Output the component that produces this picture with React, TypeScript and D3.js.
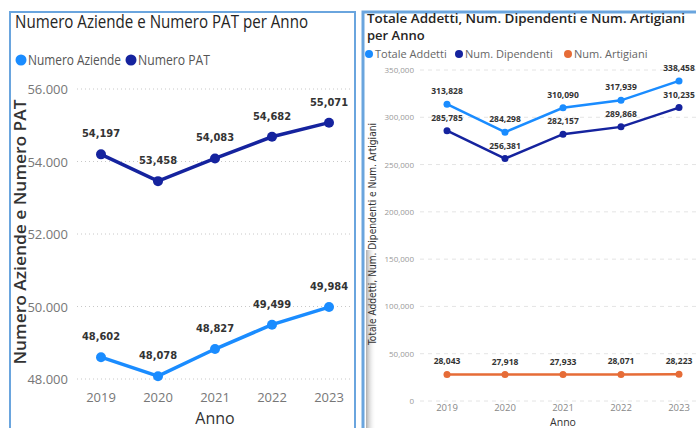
import React, { useEffect, useRef } from "react";
import * as d3 from "d3";

const years = ["2019", "2020", "2021", "2022", "2023"];
// left chart
const numeroAziende = [48602, 48078, 48827, 49499, 49984];
const numeroPat = [54197, 53458, 54083, 54682, 55071];
const leftTicks = [48000, 50000, 52000, 54000, 56000];
// right chart
const totaleAddetti = [313828, 284298, 310090, 317939, 338458];
const numDipendenti = [285785, 256381, 282157, 289868, 310235];
const numArtigiani = [28043, 27918, 27933, 28071, 28223];
const rightTicks = [0, 50000, 100000, 150000, 200000, 250000, 300000, 350000];

const LIGHT = "#1a8cff";
const DARK = "#15239e";
const ORANGE = "#e66c37";
const BORDER = "#6aa5de";

const sans = "'Segoe UI', 'Open Sans', 'DejaVu Sans', sans-serif";
const cond = "'DejaVu Sans Condensed', 'DejaVu Sans', sans-serif";

const drawCharts = (el: SVGSVGElement) => {
    const svg = d3.select(el);
    svg.selectAll("*").remove();

    svg.append("rect").attr("width", 696).attr("height", 428).attr("fill", "#fff");

    // panel frames
    svg.append("rect").attr("x", 10).attr("y", 12).attr("width", 345).attr("height", 430)
        .attr("fill", "none").attr("stroke", BORDER).attr("stroke-width", 2);
    const grad = svg.append("defs").append("linearGradient").attr("id", "shade");
    grad.append("stop").attr("offset", "0").attr("stop-color", "#777").attr("stop-opacity", 0.6);
    grad.append("stop").attr("offset", "1").attr("stop-color", "#fff").attr("stop-opacity", 0);
    svg.append("rect").attr("x", 366).attr("y", 250).attr("width", 10).attr("height", 180).attr("fill", "url(#shade)");
    svg.append("rect").attr("x", 363).attr("y", 12).attr("width", 345).attr("height", 430)
        .attr("fill", "none").attr("stroke", BORDER).attr("stroke-width", 3);

    // ---------- left chart ----------
    const xL = d3.scalePoint<string>().domain(years).range([101, 329]);
    const yL = d3.scaleLinear().domain([48000, 56000]).range([379, 89]);
    const dotFmt = (v: number) => d3.format(",")(v).replace(/,/g, ".");

    svg.append("text").attr("x", 15).attr("y", 28).attr("font-family", sans).attr("font-size", 18)
        .attr("fill", "#252423").attr("textLength", 293).attr("lengthAdjust", "spacingAndGlyphs")
        .text("Numero Aziende e Numero PAT per Anno");

    const legL = [
        { name: "Numero Aziende", c: LIGHT, x: 21, w: 93 },
        { name: "Numero PAT", c: DARK, x: 131, w: 72 },
    ];
    legL.forEach((d) => {
        svg.append("circle").attr("cx", d.x).attr("cy", 60).attr("r", 5.5).attr("fill", d.c);
        svg.append("text").attr("x", d.x + 7).attr("y", 65).attr("font-family", sans).attr("font-size", 14)
            .attr("fill", "#555").attr("textLength", d.w).attr("lengthAdjust", "spacingAndGlyphs").text(d.name);
    });

    const gL = svg.append("g");
    leftTicks.forEach((t) => {
        gL.append("line").attr("x1", 77).attr("x2", 350).attr("y1", yL(t)).attr("y2", yL(t))
            .attr("stroke", "#c8c8c8").attr("stroke-dasharray", "1,3").attr("stroke-width", 1);
        gL.append("text").attr("x", 68).attr("y", yL(t) + 5).attr("text-anchor", "end")
            .attr("font-family", sans).attr("font-size", 13).attr("fill", "#777").text(dotFmt(t));
    });
    years.forEach((yr) => {
        gL.append("text").attr("x", xL(yr)!).attr("y", 402).attr("text-anchor", "middle")
            .attr("font-family", sans).attr("font-size", 13).attr("fill", "#777").text(yr);
    });
    gL.append("text").attr("x", 215).attr("y", 424).attr("text-anchor", "middle").attr("font-family", sans)
        .attr("font-size", 16).attr("fill", "#333").text("Anno");
    gL.append("text").attr("transform", "translate(26,232) rotate(-90)").attr("text-anchor", "middle")
        .attr("font-family", sans).attr("font-size", 16).attr("font-weight", 600).attr("fill", "#333")
        .attr("textLength", 265).attr("lengthAdjust", "spacingAndGlyphs").text("Numero Aziende e Numero PAT");

    const lineL = d3.line<number>().x((_, i) => xL(years[i])!).y((v) => yL(v));
    [{ vals: numeroPat, c: DARK }, { vals: numeroAziende, c: LIGHT }].forEach((s) => {
        gL.append("path").attr("d", lineL(s.vals)!).attr("fill", "none").attr("stroke", s.c).attr("stroke-width", 3.5);
        s.vals.forEach((v, i) => {
            gL.append("circle").attr("cx", xL(years[i])!).attr("cy", yL(v)).attr("r", 5).attr("fill", s.c);
            gL.append("text").attr("x", xL(years[i])!).attr("y", yL(v) - 17).attr("text-anchor", "middle")
                .attr("font-family", cond).attr("font-size", 11).attr("font-weight", "bold").attr("fill", "#333")
                .text(d3.format(",")(v));
        });
    });

    // ---------- right chart ----------
    const xR = d3.scalePoint<string>().domain(years).range([447, 679]);
    const yR = d3.scaleLinear().domain([0, 350000]).range([401, 70]);

    svg.append("text").attr("x", 367).attr("y", 23).attr("font-family", sans).attr("font-size", 13)
        .attr("font-weight", 600).attr("fill", "#252423").attr("textLength", 318).attr("lengthAdjust", "spacingAndGlyphs")
        .text("Totale Addetti, Num. Dipendenti e Num. Artigiani");
    svg.append("text").attr("x", 367).attr("y", 40).attr("font-family", sans).attr("font-size", 13)
        .attr("font-weight", 600).attr("fill", "#252423").text("per Anno");

    const legR = [
        { name: "Totale Addetti", c: LIGHT, x: 369 },
        { name: "Num. Dipendenti", c: DARK, x: 459 },
        { name: "Num. Artigiani", c: ORANGE, x: 568 },
    ];
    legR.forEach((d) => {
        svg.append("circle").attr("cx", d.x).attr("cy", 54).attr("r", 4).attr("fill", d.c);
        svg.append("text").attr("x", d.x + 6).attr("y", 58).attr("font-family", sans).attr("font-size", 11)
            .attr("fill", "#666").text(d.name);
    });

    const gR = svg.append("g");
    rightTicks.forEach((t) => {
        gR.append("line").attr("x1", 420).attr("x2", 696).attr("y1", yR(t)).attr("y2", yR(t))
            .attr("stroke", "#e4e4e4").attr("stroke-dasharray", "4,4").attr("stroke-width", 1);
        gR.append("text").attr("x", 414).attr("y", yR(t) + 3).attr("text-anchor", "end")
            .attr("font-family", sans).attr("font-size", 8).attr("fill", "#999").text(d3.format(",")(t));
    });
    years.forEach((yr) => {
        gR.append("text").attr("x", xR(yr)!).attr("y", 411).attr("text-anchor", "middle")
            .attr("font-family", sans).attr("font-size", 9.5).attr("fill", "#888").text(yr);
    });
    gR.append("text").attr("x", 563).attr("y", 426).attr("text-anchor", "middle").attr("font-family", sans)
        .attr("font-size", 10.5).attr("fill", "#333").text("Anno");
    gR.append("text").attr("transform", "translate(376,234) rotate(-90)").attr("text-anchor", "middle")
        .attr("font-family", cond).attr("font-size", 11).attr("fill", "#333")
        .attr("textLength", 222).attr("lengthAdjust", "spacingAndGlyphs")
        .text("Totale Addetti, Num. Dipendenti e Num. Artigiani");

    const lineR = d3.line<number>().x((_, i) => xR(years[i])!).y((v) => yR(v));
    [{ vals: numArtigiani, c: ORANGE }, { vals: numDipendenti, c: DARK }, { vals: totaleAddetti, c: LIGHT }].forEach((s) => {
        gR.append("path").attr("d", lineR(s.vals)!).attr("fill", "none").attr("stroke", s.c).attr("stroke-width", 2.5);
        s.vals.forEach((v, i) => {
            gR.append("circle").attr("cx", xR(years[i])!).attr("cy", yR(v)).attr("r", 3.5).attr("fill", s.c);
            gR.append("text").attr("x", xR(years[i])!).attr("y", yR(v) - 10).attr("text-anchor", "middle")
                .attr("font-family", sans).attr("font-size", 8.5).attr("font-weight", "bold").attr("fill", "#333")
                .text(d3.format(",")(v));
        });
    });
};

export default function App() {
    const ref = useRef<SVGSVGElement>(null);
    useEffect(() => {
        if (ref.current) drawCharts(ref.current);
    }, []);
    return (
        <svg ref={ref} width={696} height={428} style={{ position: "absolute", left: 0, top: 0, display: "block" }} />
    );
}
